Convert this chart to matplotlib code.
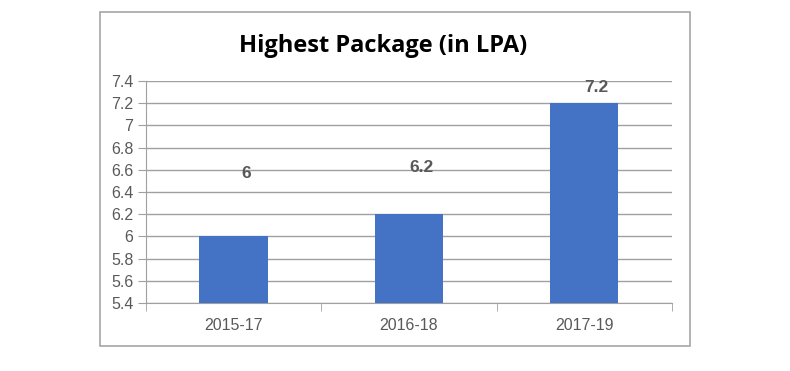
import numpy as np
import matplotlib.pyplot as plt
from matplotlib.patches import Rectangle

years = ['2015-17', '2016-18', '2017-19']
package = [6.0, 6.2, 7.2]
bar_labels = ['6', '6.2', '7.2']
label_y = [6.57, 6.62, 7.34]
yticks = [5.4, 5.6, 5.8, 6.0, 6.2, 6.4, 6.6, 6.8, 7.0, 7.2, 7.4]
ytick_text = ['5.4', '5.6', '5.8', '6', '6.2', '6.4', '6.6', '6.8', '7', '7.2', '7.4']

grey = '#595959'
line_grey = '#a0a0a0'

fig = plt.figure(figsize=(7.9, 3.71), dpi=100)
fig.patches.append(Rectangle((0.1266, 0.0674), 0.7468, 0.9003, transform=fig.transFigure,
                             fill=False, edgecolor='#a6a6a6', linewidth=1.2))

ax = fig.add_axes([0.1848, 0.1833, 0.8506 - 0.1848, 0.7817 - 0.1833])
x = np.arange(len(years))
ax.bar(x, package, width=0.39, color='#4472C4', zorder=3)
ax.set_xlim(-0.5, 2.5)
ax.set_ylim(5.4, 7.4)

ax.set_yticks(yticks)
ax.set_yticklabels(ytick_text)
ax.set_xticks(x)
ax.set_xticklabels(years)
ax.set_xticks([-0.5, 0.5, 1.5, 2.5], minor=True)
ax.tick_params(axis='x', which='major', length=0, pad=11)
ax.tick_params(axis='x', which='minor', length=6, color=line_grey)
ax.tick_params(axis='y', length=6, color=line_grey, pad=3)
ax.tick_params(labelsize=11.5, labelcolor=grey)
for lab in ax.get_xticklabels() + ax.get_yticklabels():
    lab.set_fontfamily('Liberation Sans')

ax.grid(axis='y', color=line_grey, linewidth=1, zorder=0)
for s in ['top', 'right']:
    ax.spines[s].set_visible(False)
for s in ['left', 'bottom']:
    ax.spines[s].set_color(line_grey)

for xi, lab, ly in zip(x, bar_labels, label_y):
    ax.text(xi + 0.07, ly, lab, ha='center', va='center', fontsize=12.5, fontweight='bold',
            color=grey, family='Liberation Sans', zorder=4)

fig.text(0.485, 0.876, 'Highest Package (in LPA)', ha='center', va='center', fontsize=17,
         fontweight='bold', family='Open Sans', color='black')

fig.savefig('out.png', dpi=100)
